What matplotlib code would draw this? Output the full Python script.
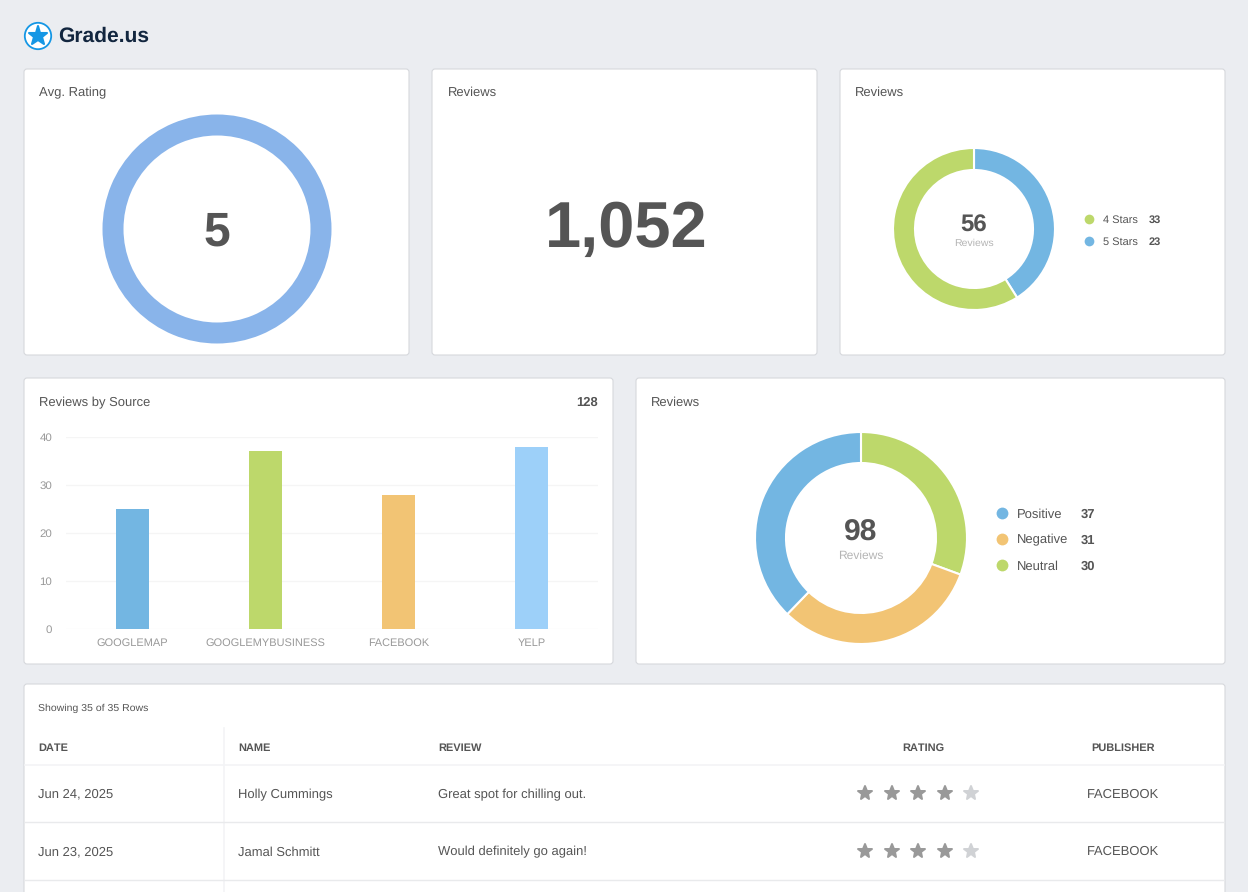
import matplotlib
matplotlib.use("Agg")
import matplotlib.pyplot as plt
from matplotlib.markers import MarkerStyle
from matplotlib.patches import FancyBboxPatch, Circle

plt.rcParams["font.family"] = ["Liberation Sans", "DejaVu Sans"]
plt.rcParams["text.hinting"] = "no_hinting"
plt.rcParams["text.kerning_factor"] = 6

W, H = 1248, 892

# chart data
avg_rating = 5
total_reviews = "1,052"
star_labels = ["5 Stars", "4 Stars"]
star_values = [23, 33]
source_labels = ["GOOGLEMAP", "GOOGLEMYBUSINESS", "FACEBOOK", "YELP"]
source_values = [25, 37, 28, 38]
source_ticks = [0, 10, 20, 30, 40]
sentiment_labels = ["Neutral", "Negative", "Positive"]
sentiment_values = [30, 31, 37]

# table data
columns = ["DATE", "NAME", "REVIEW", "RATING", "PUBLISHER"]
dates = ["Jun 24, 2025", "Jun 23, 2025"]
names = ["Holly Cummings", "Jamal Schmitt"]
reviews = ["Great spot for chilling out.", "Would definitely go again!"]
ratings = [4, 4]
publishers = ["FACEBOOK", "FACEBOOK"]

BLUE = "#73b6e2"
GREEN = "#bdd86b"
ORANGE = "#f2c474"
LIGHT_BLUE = "#9dd0f9"
TEXT = "#555555"
BG = "#ebedf1"

fig = plt.figure(figsize=(W / 100, H / 100), dpi=100, facecolor=BG)
bg = fig.add_axes([0, 0, 1, 1])
bg.set_xlim(0, W)
bg.set_ylim(H, 0)
bg.axis("off")


def px(size):
    # css pixels to points
    return size * 0.72


def label(x, y, s, size=13, color=TEXT, ha="left", weight="normal"):
    # y is the middle of the capitals, so rows line up whatever the letters
    bg.text(x, y + 0.36 * size, s, fontsize=px(size), color=color, ha=ha, va="baseline", weight=weight)


def card(x0, y0, x1, y1):
    bg.add_patch(FancyBboxPatch((x0, y0), x1 - x0, y1 - y0, boxstyle="round,pad=0,rounding_size=3",
                                fc="white", ec="#d6d8dc", lw=0.8))


def inset(x0, y0, x1, y1):
    return fig.add_axes([x0 / W, 1 - y1 / H, (x1 - x0) / W, (y1 - y0) / H])


def donut(cx, cy, outer, inner, values, colors, lw=1.5):
    ax = inset(cx - outer, cy - outer, cx + outer, cy + outer)
    ax.pie(values, colors=colors, startangle=90, counterclock=False, radius=1,
           wedgeprops={"width": (outer - inner) / outer, "edgecolor": "white", "linewidth": lw})
    ax.set_xlim(-1, 1)
    ax.set_ylim(-1, 1)
    ax.patch.set_alpha(0)
    return ax


def star(x, y, size, color, edge=1.4):
    # the round edge makes the star fatter, like the icon font
    bg.plot([x], [y], marker=MarkerStyle("*", joinstyle="round"), ms=size, color=color, mec=color, mew=edge)


# header
bg.add_patch(Circle((38, 36), 13.2, fc="white", ec="#1597e5", lw=1.3))
star(38, 35.5, 14, "#1597e5", 1.5)
label(58.5, 34.5, "Grade.us", size=21, color="#12263f", weight="bold")

# cards
card(24, 69, 409, 355)
card(432, 69, 817, 355)
card(840, 69, 1225, 355)
card(24, 378, 613, 664)
card(636, 378, 1225, 664)
card(24, 684, 1225, 910)

# avg rating
label(39, 91.5, "Avg. Rating")
donut(217, 229, 114.5, 93.5, [avg_rating], ["#89b4ea"], lw=0)
label(217, 228, str(avg_rating), size=48, ha="center", weight="bold")

# total reviews
label(448, 91.5, "Reviews")
label(626, 224, total_reviews, size=65, ha="center", weight="bold")

# star breakdown
label(855, 91.5, "Reviews")
donut(974, 229, 81, 59, star_values, [BLUE, GREEN])
label(974, 223, str(sum(star_values)), size=24, ha="center", weight="bold")
label(974, 242, "Reviews", size=10.5, color="#b5b5b5", ha="center")
for i, (name, val, col) in enumerate(zip(star_labels[::-1], star_values[::-1], [GREEN, BLUE])):
    y = 219 + i * 22
    bg.plot([1089], [y], "o", ms=7, color=col, mew=0)
    label(1103, y, name, size=11)
    label(1149, y, str(val), size=11, weight="bold")

# reviews by source
label(39, 401.5, "Reviews by Source")
label(598, 401, str(sum(source_values)), size=13, ha="right", weight="bold")
ax = inset(66, 437, 598, 629)
ax.bar(source_labels, source_values, width=0.25, color=[BLUE, GREEN, ORANGE, LIGHT_BLUE], zorder=3)
ax.set_xlim(-0.5, 3.5)
ax.set_ylim(0, 40)
ax.set_yticks(source_ticks)
ax.grid(axis="y", color="#f5f5f5", lw=1)
ax.set_axisbelow(True)
ax.tick_params(length=0, colors="#999999", labelsize=px(11.5))
ax.tick_params(axis="y", pad=10)
ax.tick_params(axis="x", pad=6.5, labelsize=px(11))
for s in ax.spines.values():
    s.set_visible(False)
ax.patch.set_alpha(0)

# sentiment
label(651, 401, "Reviews")
donut(861, 538, 106, 75, sentiment_values, [GREEN, ORANGE, BLUE])
label(861, 530, str(sum(sentiment_values)), size=30, ha="center", weight="bold")
label(861, 554.5, "Reviews", size=12, color="#b5b5b5", ha="center")
for i, (name, val, col) in enumerate(zip(sentiment_labels[::-1], sentiment_values[::-1], [BLUE, ORANGE, GREEN])):
    y = 513 + i * 26
    bg.plot([1002], [y], "o", ms=8.5, color=col, mew=0)
    label(1017, y, name, size=13)
    label(1081, y, str(val), size=13, weight="bold")

# table
label(38, 707, "Showing 35 of 35 Rows", size=10.5)
col_x = [38, 238, 438, 923, 1123.5]
col_ha = ["left", "left", "left", "center", "center"]
for x, name, ha in zip(col_x, columns, col_ha):
    label(x, 747, name, size=11, ha=ha, weight="bold")
bg.plot([25, 1224], [764.5, 764.5], color="#f3f4f6", lw=1.2)
bg.plot([223.5, 223.5], [728, H], color="#f3f4f6", lw=1.2)
for y in [821.5, 879.5]:
    bg.plot([25, 1224], [y, y], color="#e9eaec", lw=1)

for i in range(len(dates)):
    y = 793 + i * 57.5
    label(38, y, dates[i])
    label(238, y + 0.5, names[i])
    label(438, y + 0.5, reviews[i])
    label(1123.5, y, publishers[i], ha="center")
    for k in range(5):
        col = "#999999" if k < ratings[i] else "#d0d2d5"
        star(865 + k * 26.6, y, 10, col)

bg.set_xlim(0, W)
bg.set_ylim(H, 0)
fig.savefig("out.png", dpi=100, facecolor=BG)
